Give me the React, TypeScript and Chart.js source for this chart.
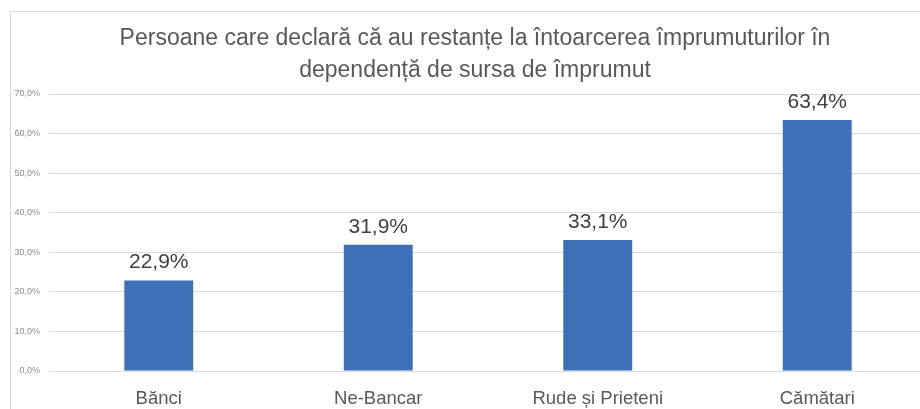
import React, { useEffect, useRef } from "react";
import { Chart, registerables } from "chart.js";

Chart.register(...registerables);

const titleLines = [
  "Persoane care declară că au restanțe la întoarcerea împrumuturilor în",
  "dependență de sursa de împrumut",
];
const categories = ["Bănci", "Ne-Bancar", "Rude și Prieteni", "Cămătari"];
const values = [22.9, 31.9, 33.1, 63.4];
const yMin = 0;
const yMax = 70;
const yStep = 10;

const fmt = (v: number) => v.toFixed(1).replace(".", ",") + "%";

const titlePlugin = {
  id: "customTitle",
  afterDraw(chart: any) {
    const ctx = chart.ctx;
    ctx.save();
    ctx.fillStyle = "#595959";
    ctx.font = '23px "Liberation Sans", sans-serif';
    ctx.textAlign = "center";
    ctx.textBaseline = "alphabetic";
    const cx = 464;
    titleLines.forEach((line, i) => {
      ctx.fillText(line, cx, 33 + i * 32);
    });
    ctx.restore();
  },
};

const labelPlugin = {
  id: "barLabels",
  afterDatasetsDraw(chart: any) {
    const ctx = chart.ctx;
    const meta = chart.getDatasetMeta(0);
    ctx.save();
    ctx.fillStyle = "#404040";
    ctx.font = '21px "Liberation Sans", sans-serif';
    ctx.textAlign = "center";
    ctx.textBaseline = "alphabetic";
    meta.data.forEach((bar: any, i: number) => {
      ctx.fillText(fmt(values[i]), bar.x, bar.y - 12);
    });
    ctx.restore();
  },
};

export default function App() {
  const ref = useRef<HTMLCanvasElement>(null);
  useEffect(() => {
    if (!ref.current) return;
    const chart = new Chart(ref.current, {
      type: "bar",
      data: {
        labels: categories,
        datasets: [
          {
            data: values,
            backgroundColor: "#3E70B7",
            categoryPercentage: 1,
            barPercentage: 0.314,
          },
        ],
      },
      options: {
        responsive: false,
        animation: false,
        layout: { padding: { top: 82, right: 14, left: 0, bottom: 0 } },
        plugins: {
          legend: { display: false },
          title: { display: false },
          tooltip: { enabled: false },
        },
        scales: {
          x: {
            grid: { display: false, drawTicks: false },
            border: { display: false },
            ticks: {
              color: "#595959",
              font: { size: 18.5, family: '"Liberation Sans", sans-serif' },
              padding: 17,
              maxRotation: 0,
              autoSkip: false,
            },
            afterFit: (s: any) => {
              s.height = 39;
            },
          },
          y: {
            min: yMin,
            max: yMax,
            grid: { color: "#d9d9d9", lineWidth: 1, drawTicks: false },
            border: { display: false },
            ticks: {
              stepSize: yStep,
              color: "#8c8c8c",
              font: { size: 9, family: '"Liberation Sans", sans-serif' },
              padding: 9,
              callback: (v: any) => fmt(Number(v)),
            },
            afterFit: (s: any) => {
              s.width = 38;
            },
          },
        },
      },
      plugins: [titlePlugin, labelPlugin],
    });
    return () => chart.destroy();
  }, []);

  return (
    <div
      style={{
        position: "fixed",
        left: 0,
        top: 0,
        width: 920,
        height: 409,
        overflow: "hidden",
        background: "#fff",
      }}
    >
      <div
        style={{
          position: "absolute",
          left: 10,
          top: 11,
          width: 930,
          height: 420,
          border: "1px solid #d9d9d9",
          background: "#fff",
        }}
      >
        <canvas ref={ref} width={930} height={398} style={{ display: "block" }} />
      </div>
    </div>
  );
}
